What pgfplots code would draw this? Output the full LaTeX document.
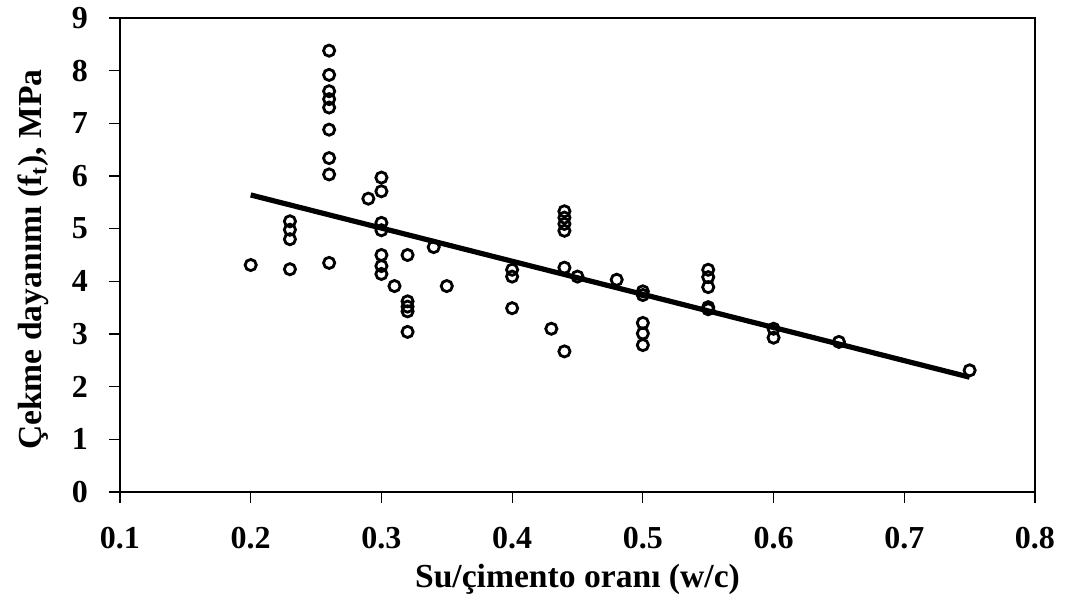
\documentclass[border=0pt]{standalone}
\usepackage{pgfplots}
\pgfplotsset{compat=1.18}
\usepackage{fontspec}
\setmainfont{Liberation Serif}

\begin{document}
\begin{tikzpicture}
\begin{axis}[
    scale only axis,
    width=457.5pt, height=237pt,
    xmin=0.1, xmax=0.8,
    ymin=0, ymax=9,
    xtick={0.1,0.2,0.3,0.4,0.5,0.6,0.7,0.8},
    ytick={0,1,2,3,4,5,6,7,8,9},
    xtick pos=bottom, ytick pos=left,
    tick align=outside,
    major tick length=5.5pt,
    axis line style={line width=0.6pt},
    every tick/.style={black, line width=0.6pt},
    /pgf/number format/assume math mode=true,
    xticklabel={\pgfmathprintnumber[fixed,fixed zerofill,precision=1,assume math mode=true]{\tick}},
    tick label style={font=\fontsize{16}{19}\selectfont\bfseries},
    x tick label style={anchor=center, yshift=-17.5pt},
    y tick label style={anchor=east, xshift=-7pt},
    xlabel={Su/çimento oranı (w/c)},
    ylabel={Çekme dayanımı (f\textsubscript{t}), MPa},
    label style={font=\fontsize{16.8}{19}\selectfont\bfseries},
    xlabel style={at={(axis description cs:0.5,-0.185)}, anchor=center},
    ylabel style={at={(axis description cs:-0.095,0.49)}, anchor=center},
]
\coordinate (O) at (rel axis cs:0,0);

\addplot[only marks, mark=o, mark size=2.8pt, mark options={line width=1.4pt, black}] table {
x y
0.20 4.31
0.23 5.14
0.23 4.98
0.23 4.80
0.23 4.23
0.26 8.38
0.26 7.92
0.26 7.61
0.26 7.46
0.26 7.30
0.26 6.88
0.26 6.34
0.26 6.03
0.26 4.35
0.29 5.57
0.30 5.97
0.30 5.71
0.30 5.11
0.30 4.97
0.30 4.50
0.30 4.29
0.30 4.14
0.31 3.91
0.32 4.50
0.32 3.62
0.32 3.52
0.32 3.43
0.32 3.04
0.34 4.65
0.35 3.91
0.40 4.22
0.40 4.09
0.40 3.49
0.43 3.10
0.44 5.33
0.44 5.21
0.44 5.09
0.44 4.96
0.44 4.26
0.44 2.67
0.45 4.09
0.48 4.03
0.50 3.81
0.50 3.74
0.50 3.21
0.50 3.01
0.50 2.79
0.55 4.22
0.55 4.08
0.55 3.89
0.55 3.51
0.55 3.47
0.60 3.10
0.60 2.93
0.65 2.85
0.75 2.31
};

% trend line
\addplot[black, line width=2.6pt] coordinates {(0.20,5.64) (0.75,2.18)};
\end{axis}
\pgfresetboundingbox
\path (O) ++(-60pt,-58.5pt) rectangle ++(533.5pt,304.5pt);
\end{tikzpicture}
\end{document}
